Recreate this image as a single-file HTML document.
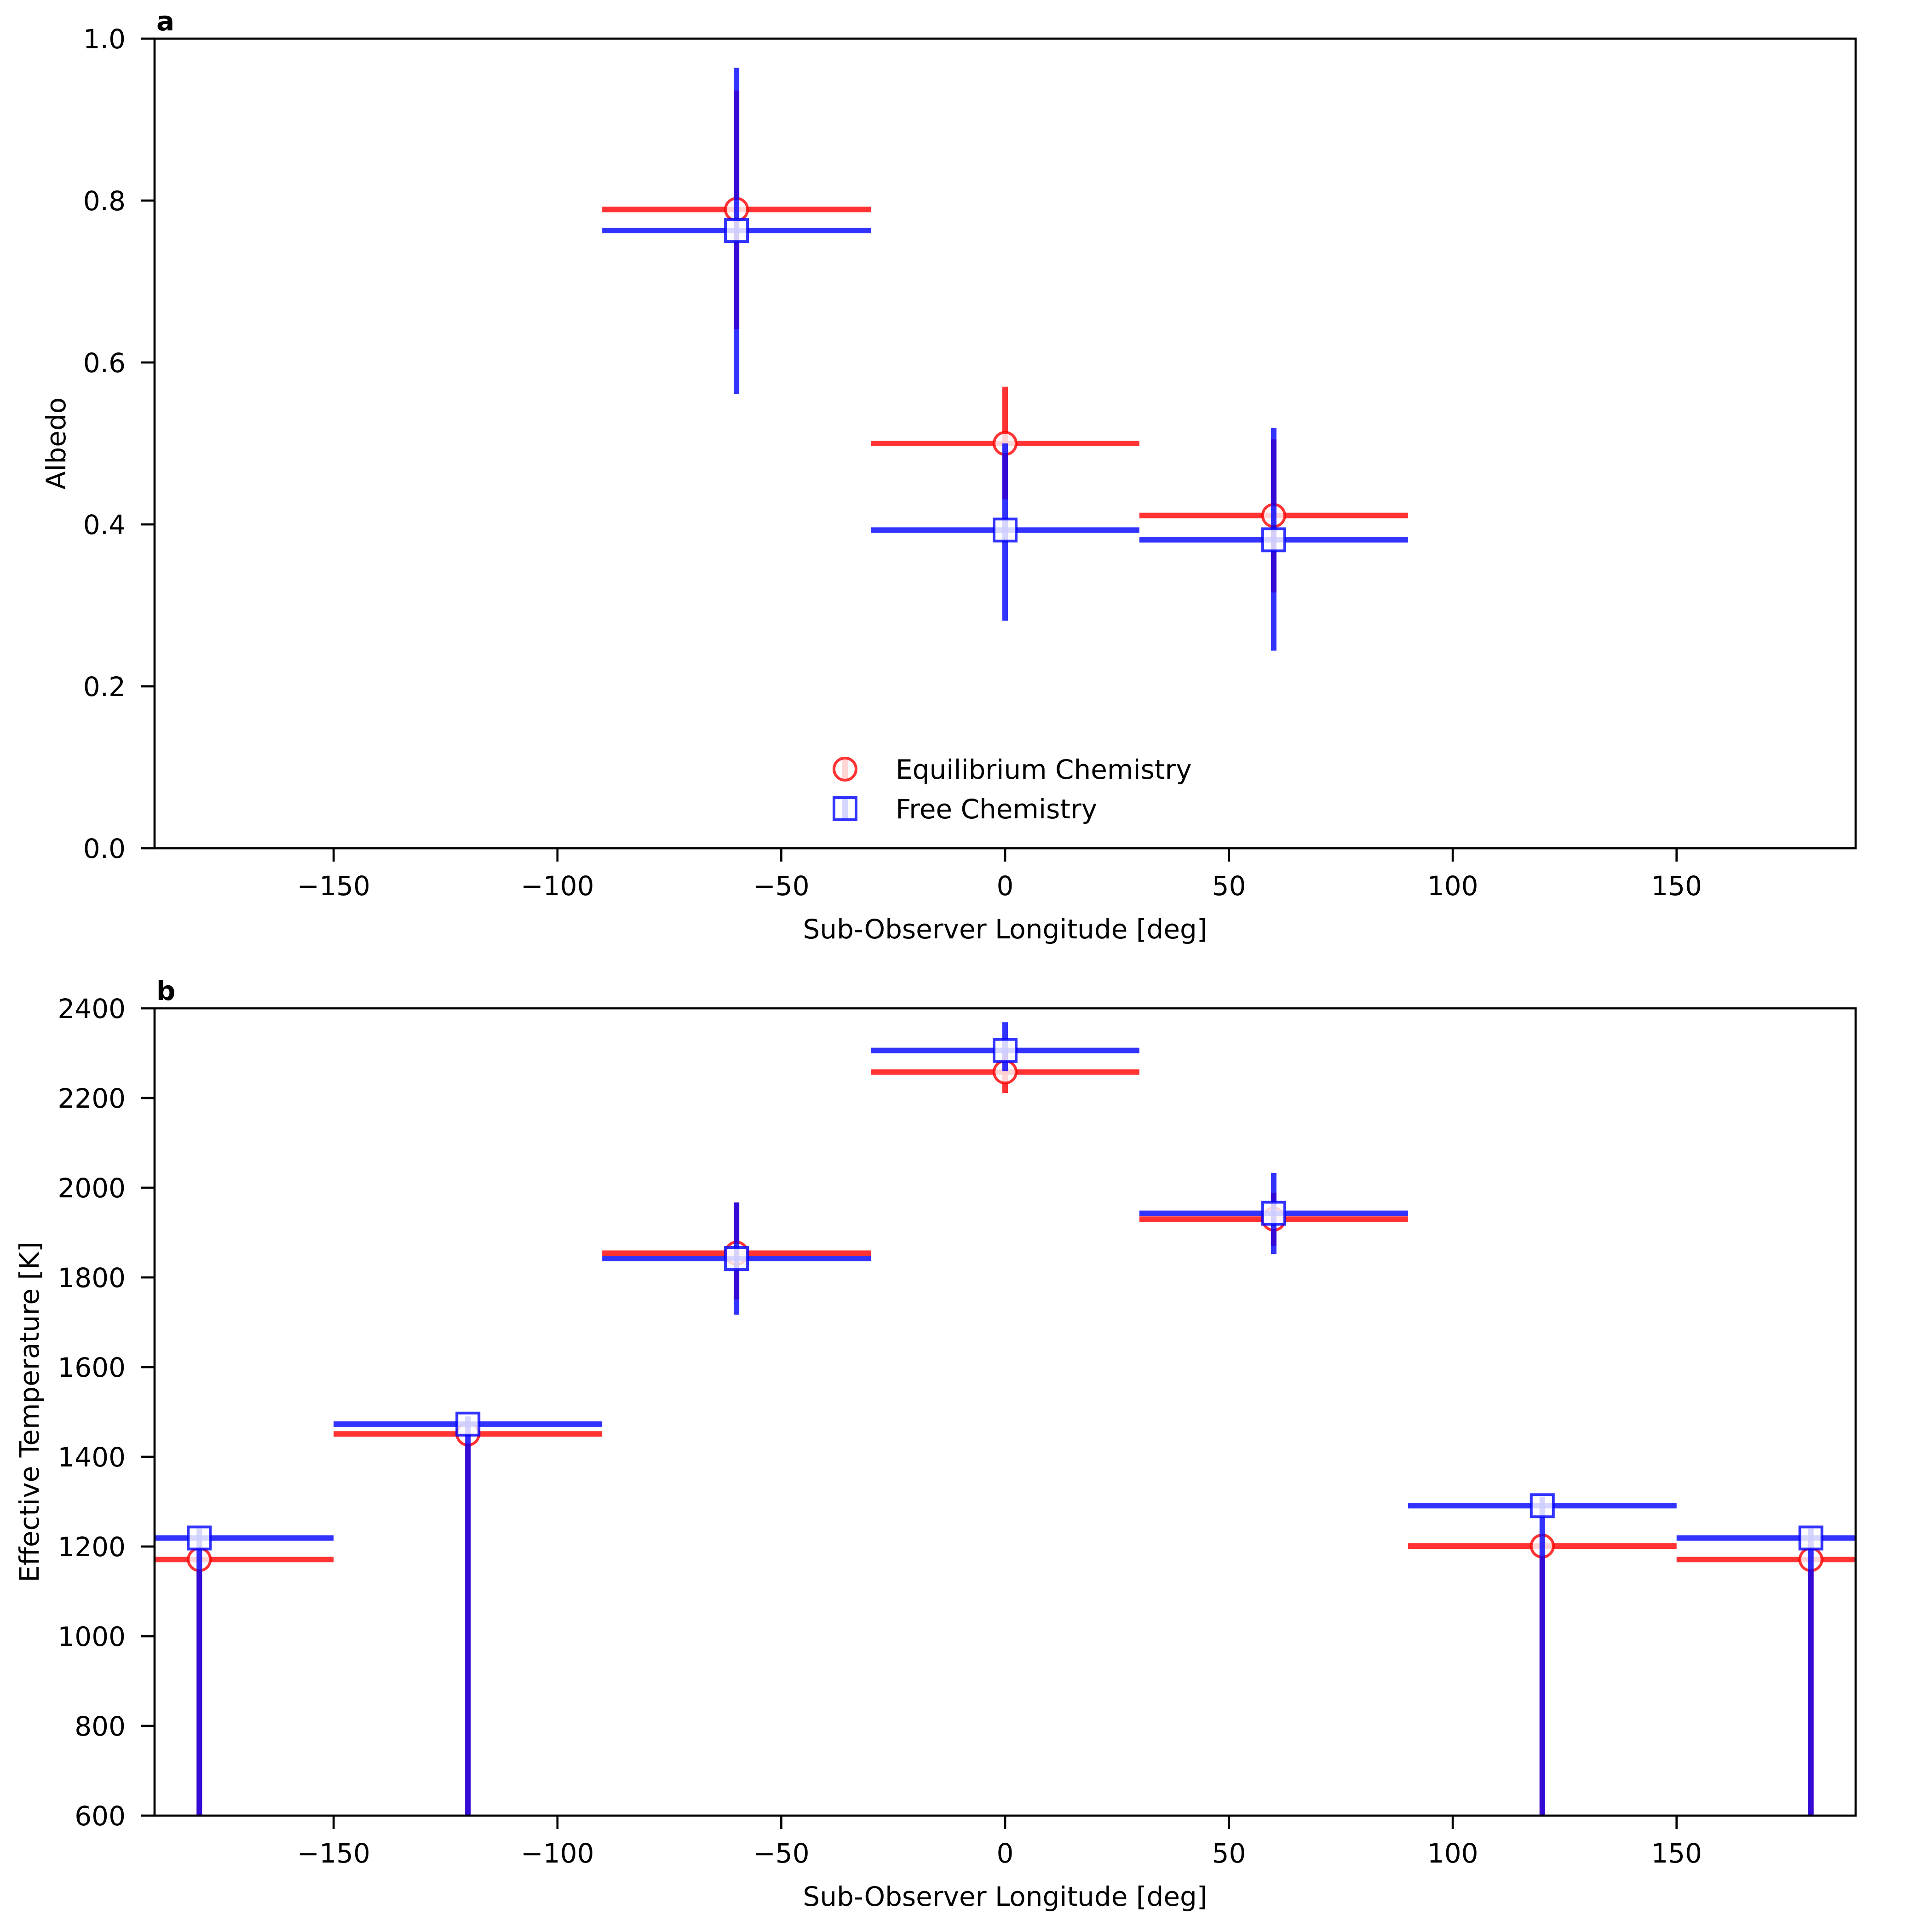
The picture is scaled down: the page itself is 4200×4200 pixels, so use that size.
<!DOCTYPE html>
<html><head><meta charset="utf-8"><style>
html,body{margin:0;padding:0;background:#fff;}
svg{display:block;font-family:"DejaVu Sans","Liberation Sans",sans-serif;}
</style></head><body>
<svg id="fig" width="4200" height="4200" viewBox="0 0 4200 4200" xmlns="http://www.w3.org/2000/svg">
<rect width="4200" height="4200" fill="#fff"/>
</svg>
<script>
// Shared x data
const lonA = [-60, 0, 60];
const lonB = [-180, -120, -60, 0, 60, 120, 180];
const xHalfWidth = 30;
// Panel a: albedo
const albEq = [0.789, 0.500, 0.411];
const albEqLo = [0.641, 0.431, 0.316];
const albEqHi = [0.936, 0.570, 0.505];
const albFree = [0.763, 0.393, 0.381];
const albFreeLo = [0.561, 0.281, 0.244];
const albFreeHi = [0.964, 0.500, 0.519];
// Panel b: effective temperature
const tEq = [1171, 1451, 1854, 2258, 1930, 1201, 1171];
const tEqLo = [300, 300, 1751, 2211, 1870, 300, 300];
const tEqHi = [1190, 1470, 1967, 2300, 1989, 1220, 1190];
const tFree = [1219, 1473, 1842, 2306, 1943, 1291, 1219];
const tFreeLo = [300, 300, 1717, 2260, 1852, 300, 300];
const tFreeHi = [1240, 1490, 1967, 2369, 2033, 1310, 1240];
const xTicks = [-150, -100, -50, 0, 50, 100, 150];
const yTicksA = [0.0, 0.2, 0.4, 0.6, 0.8, 1.0];
const yTicksB = [600, 800, 1000, 1200, 1400, 1600, 1800, 2000, 2200, 2400];

const NS = "http://www.w3.org/2000/svg";
const svg = document.getElementById('fig');
function mk(tag, attrs, parent) {
  const e = document.createElementNS(NS, tag);
  for (const k in attrs) e.setAttribute(k, attrs[k]);
  (parent || svg).appendChild(e);
  return e;
}
const L = 336, R = 4034;
const RED = "#ff0000", BLUE = "#0000ff";

function panel(cfg) {
  const g = mk('g', {});
  
  
  const xs = v => L + (v + 190) / 380 * (R - L);
  const ys = v => cfg.bot - (v - cfg.ymin) / (cfg.ymax - cfg.ymin) * (cfg.bot - cfg.top);
  const clip = mk('clipPath', {id: cfg.name + '-clip'}, g);
  mk('rect', {x: L, y: cfg.top, width: R - L, height: cfg.bot - cfg.top}, clip);
  const data = mk('g', {'clip-path': 'url(#' + cfg.name + '-clip)'}, g);
  function series(xv, yv, lo, hi, color, marker, sname) {
    const sg = mk('g', {}, data);
    
    
    for (let i = 0; i < xv.length; i++) {
      const h = mk('line', {x1: xs(xv[i] - xHalfWidth), x2: xs(xv[i] + xHalfWidth), y1: ys(yv[i]), y2: ys(yv[i]), stroke: color, 'stroke-width': 12, 'stroke-opacity': 0.8}, sg);
      
      
      const v = mk('line', {x1: xs(xv[i]), x2: xs(xv[i]), y1: ys(lo[i]), y2: ys(hi[i]), stroke: color, 'stroke-width': 12, 'stroke-opacity': 0.8}, sg);
      
      
    }
    for (let i = 0; i < xv.length; i++) {
      let m;
      if (marker === 'o') m = mk('circle', {cx: xs(xv[i]), cy: ys(yv[i]), r: 24, fill: '#fff', 'fill-opacity': 0.8, stroke: color, 'stroke-opacity': 0.8, 'stroke-width': 6}, sg);
      else m = mk('rect', {x: xs(xv[i]) - 24, y: ys(yv[i]) - 24, width: 48, height: 48, fill: '#fff', 'fill-opacity': 0.8, stroke: color, 'stroke-opacity': 0.8, 'stroke-width': 6}, sg);
      
      
    }
  }
  series(cfg.x, cfg.eq, cfg.eqLo, cfg.eqHi, RED, 'o', cfg.name + '-equilibrium');
  series(cfg.x, cfg.fr, cfg.frLo, cfg.frHi, BLUE, 's', cfg.name + '-free');
  // frame
  const fr = mk('rect', {x: L, y: cfg.top, width: R - L, height: cfg.bot - cfg.top, fill: 'none', stroke: '#000', 'stroke-width': 4.7}, g);
  
  
  for (const t of xTicks) {
    mk('line', {x1: xs(t), x2: xs(t), y1: cfg.bot, y2: cfg.bot + 29, stroke: '#000', 'stroke-width': 4.7}, g);
    const tx = mk('text', {x: xs(t), y: cfg.bot + 102, 'font-size': 58, 'text-anchor': 'middle'}, g);
    
    
    tx.textContent = t < 0 ? '\u2212' + Math.abs(t) : String(t);
  }
  for (const t of cfg.yt) {
    mk('line', {x1: L - 29, x2: L, y1: ys(t), y2: ys(t), stroke: '#000', 'stroke-width': 4.7}, g);
    const tx = mk('text', {x: 273, y: ys(t) + 21, 'font-size': 58, 'text-anchor': 'end'}, g);
    
    
    tx.textContent = cfg.fmt(t);
  }
  const xt = mk('text', {x: (L + R) / 2, y: cfg.bot + 196, 'font-size': 58, 'text-anchor': 'middle'}, g);
  
  
  xt.textContent = 'Sub-Observer Longitude [deg]';
  const yt = mk('text', {x: cfg.ytx, y: (cfg.top + cfg.bot) / 2, 'font-size': 58, 'text-anchor': 'middle', transform: 'rotate(-90 ' + cfg.ytx + ' ' + (cfg.top + cfg.bot) / 2 + ')'}, g);
  
  
  yt.textContent = cfg.ytitle;
  const pl = mk('text', {x: 340, y: cfg.top - 18, 'font-size': 58, 'font-weight': 'bold'}, g);
  
  
  pl.textContent = cfg.label;
}

panel({name: 'albedo-panel', top: 84, bot: 1844, ymin: 0, ymax: 1, x: lonA,
  eq: albEq, eqLo: albEqLo, eqHi: albEqHi, fr: albFree, frLo: albFreeLo, frHi: albFreeHi,
  yt: yTicksA, fmt: t => t.toFixed(1), ytitle: 'Albedo', ytx: 142, label: 'a'});
panel({name: 'temperature-panel', top: 2192, bot: 3947, ymin: 600, ymax: 2400, x: lonB,
  eq: tEq, eqLo: tEqLo, eqHi: tEqHi, fr: tFree, frLo: tFreeLo, frHi: tFreeHi,
  yt: yTicksB, fmt: t => String(t), ytitle: 'Effective Temperature [K]', ytx: 84, label: 'b'});

// legend
const lg = mk('g', {});


const e1 = mk('g', {}, lg);


mk('line', {x1: 1837, x2: 1837, y1: 1650, y2: 1694, stroke: RED, 'stroke-width': 12, 'stroke-opacity': 0.8}, e1);
mk('circle', {cx: 1837, cy: 1672, r: 24, fill: '#fff', 'fill-opacity': 0.8, stroke: RED, 'stroke-opacity': 0.8, 'stroke-width': 6}, e1);
const t1 = mk('text', {x: 1947, y: 1693, 'font-size': 58}, e1);
t1.textContent = 'Equilibrium Chemistry';
const e2 = mk('g', {}, lg);


mk('line', {x1: 1837, x2: 1837, y1: 1736, y2: 1780, stroke: BLUE, 'stroke-width': 12, 'stroke-opacity': 0.8}, e2);
mk('rect', {x: 1813, y: 1734, width: 48, height: 48, fill: '#fff', 'fill-opacity': 0.8, stroke: BLUE, 'stroke-opacity': 0.8, 'stroke-width': 6}, e2);
const t2 = mk('text', {x: 1947, y: 1779, 'font-size': 58}, e2);
t2.textContent = 'Free Chemistry';
</script>
</body></html>
